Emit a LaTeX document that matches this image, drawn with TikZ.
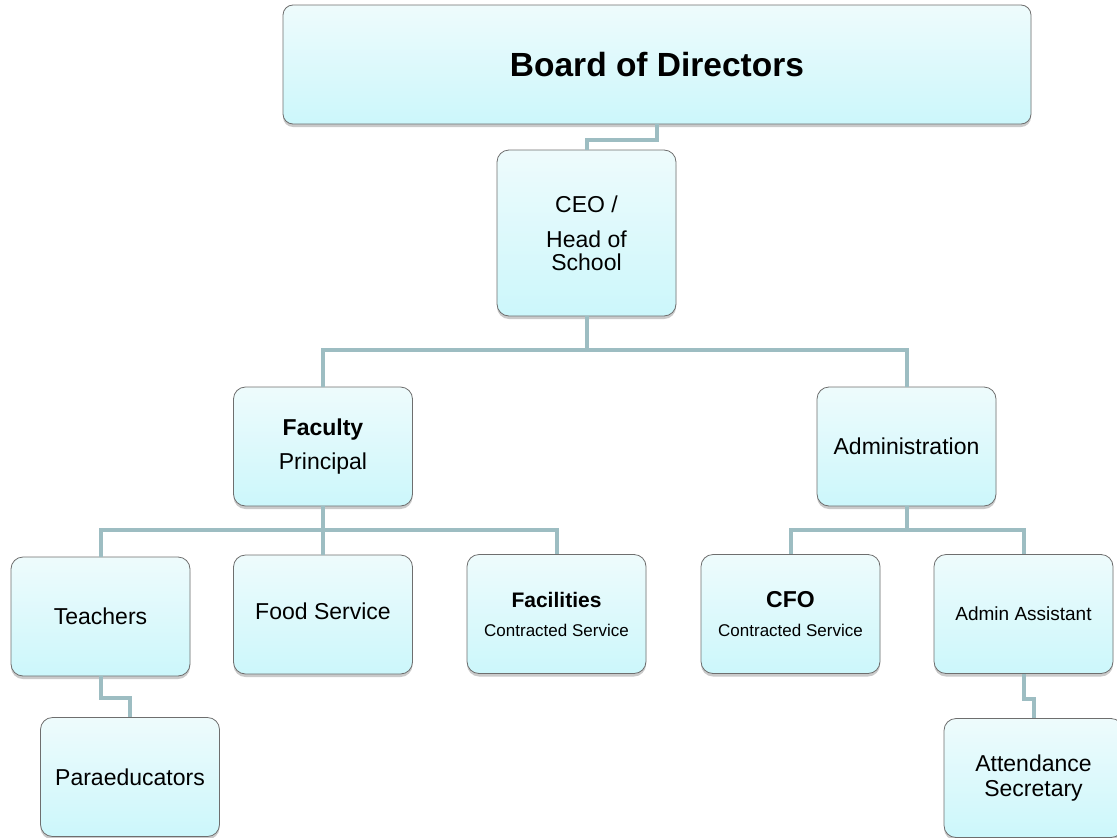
\documentclass[tikz,border=0pt]{standalone}
\usepackage{fontspec}
\setmainfont{Liberation Sans}
\usetikzlibrary{shadows}
\definecolor{boxtop}{HTML}{EEFBFC}
\definecolor{boxbottom}{HTML}{CCF7FB}
\definecolor{boxline}{HTML}{6E6E6E}
\definecolor{linkcol}{HTML}{9DBDC2}
\newcommand{\fsz}[2]{\fontsize{#1}{#2}\selectfont}
\begin{document}
\begin{tikzpicture}[x=1pt, y=-1pt,
  unit/.style={draw=boxline, line width=0.8pt, rounded corners=12pt,
    top color=boxtop, bottom color=boxbottom, align=center,
    minimum width=179pt, minimum height=119pt, inner sep=2pt,
    drop shadow={shadow xshift=0pt, shadow yshift=-3pt, opacity=0.35, fill=black!60},
    font=\fsz{23}{25}},
  link/.style={draw=linkcol, line width=4pt}]
\useasboundingbox (0,0) rectangle (1117,838);

\node[unit, minimum width=748pt, rounded corners=10pt, font=\fsz{33.5}{38}\bfseries] (board) at (657,64.5) {Board of Directors};
\node[unit, minimum height=166pt, font=\fsz{23}{23}] (ceo) at (586.5,233) {CEO /\\[12pt]Head of\\School};

\node[unit] (faculty) at (323,446.5) {\textbf{Faculty}\\[9pt]Principal};
\node[unit] (admin) at (906.5,446.5) {Administration};

\node[unit] (teachers) at (100.5,616.5) {Teachers};
\node[unit, text depth=7pt] (food) at (323,614.5) {Food Service};
\node[unit] (facilities) at (556.5,614) {\fsz{21}{24}\textbf{Facilities}\\[4pt]\fsz{17}{20}Contracted Service};
\node[unit] (cfo) at (790.5,614) {\textbf{CFO}\\[4pt]\fsz{17}{20}Contracted Service};
\node[unit, font=\fsz{19}{22}] (asst) at (1023.5,614) {Admin Assistant};

\node[unit] (para) at (130,777) {Paraeducators};
\node[unit] (attend) at (1033.5,778) {Attendance\\Secretary};

% connectors
\draw[link] (board.south) -- ++(0,16) -| (ceo.north);
\draw[link] (ceo.south) -- ++(0,34) -| (faculty.north);
\draw[link] (ceo.south) -- ++(0,34) -| (admin.north);

\draw[link] (faculty.south) -- ++(0,24) -| (teachers.north);
\draw[link] (faculty.south) -- (food.north);
\draw[link] (faculty.south) -- ++(0,24) -| (facilities.north);

\draw[link] (admin.south) -- ++(0,24) -| (cfo.north);
\draw[link] (admin.south) -- ++(0,24) -| (asst.north);

\draw[link] (teachers.south) -- ++(0,22) -| (para.north);
\draw[link] (asst.south) -- ++(0,25) -| (attend.north);
\end{tikzpicture}
\end{document}
